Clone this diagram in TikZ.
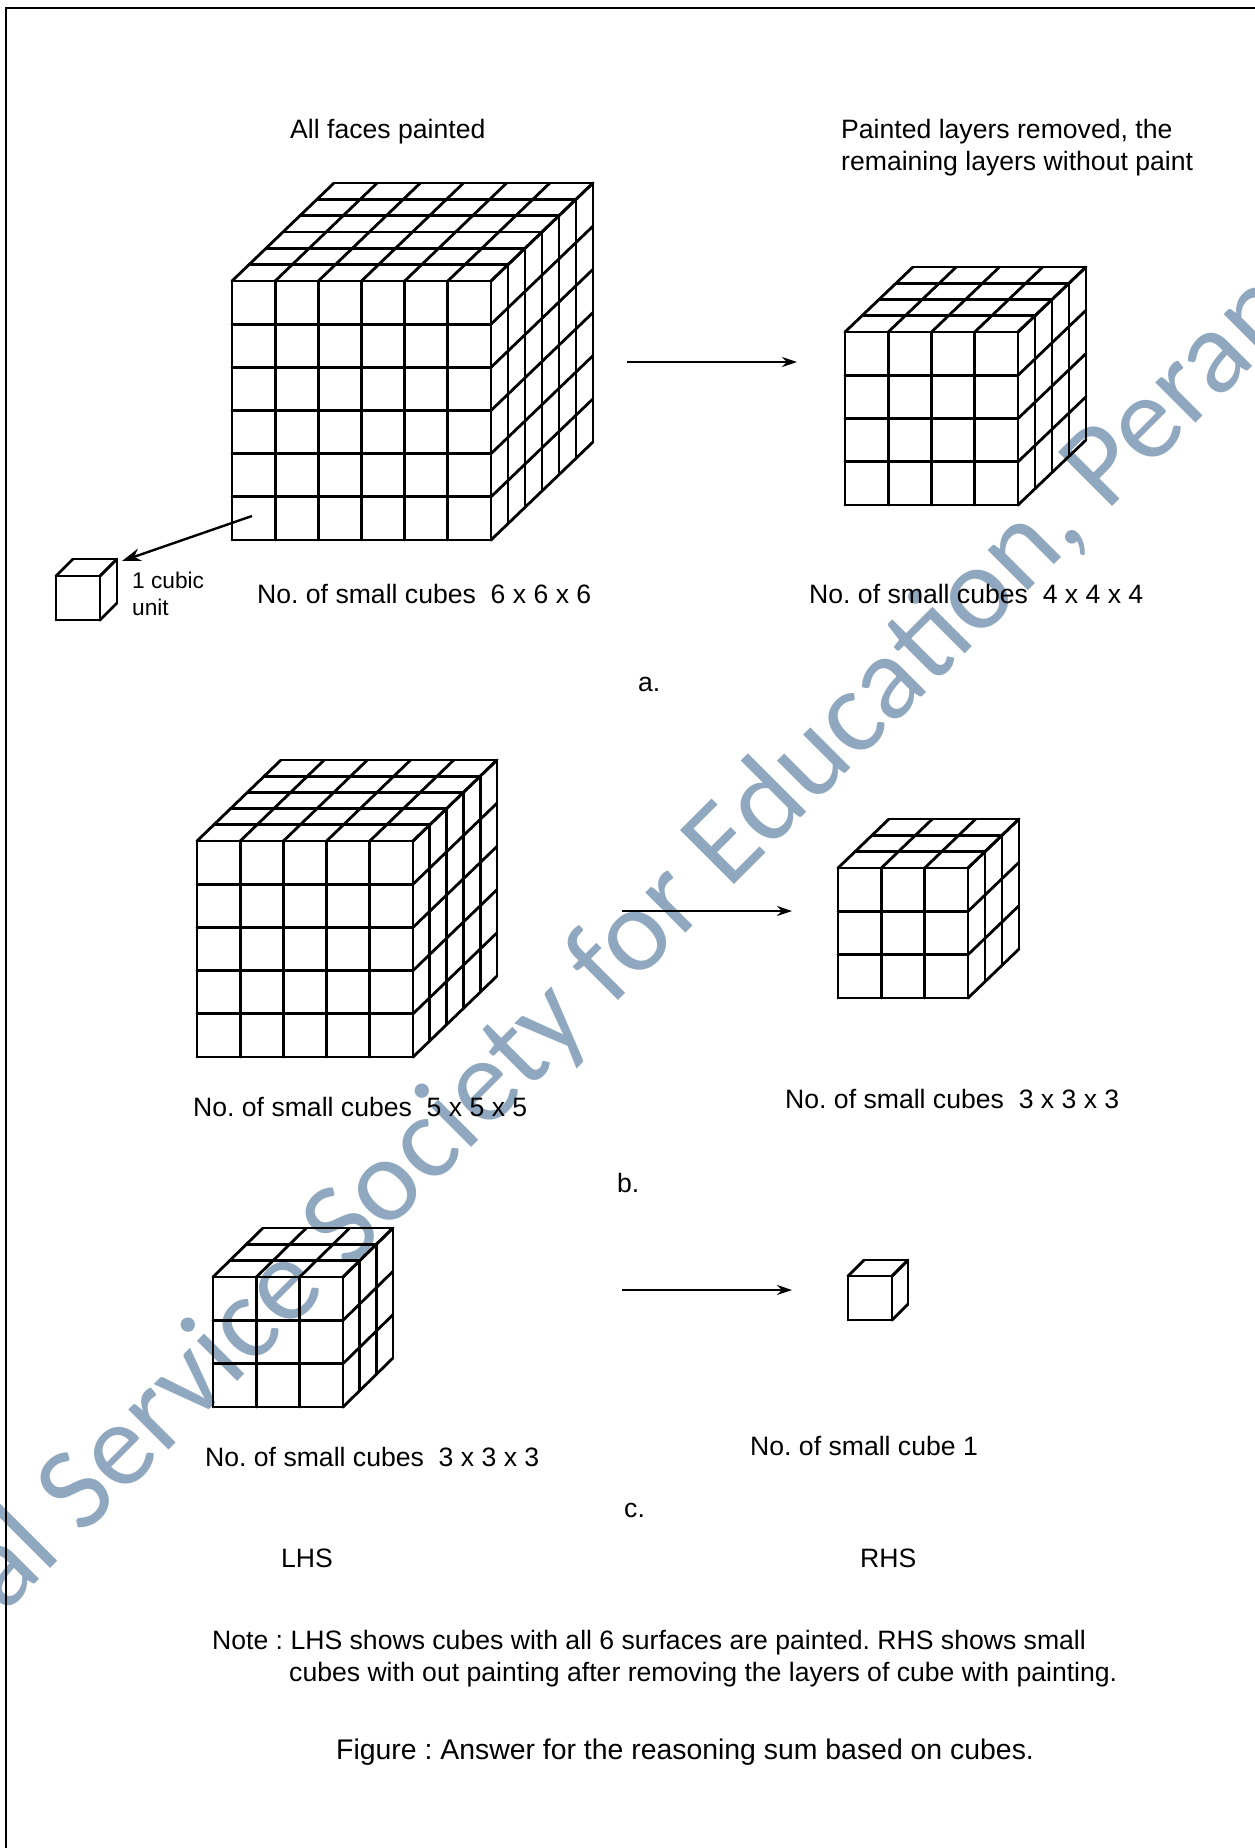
\documentclass[tikz,border=0pt]{standalone}
\usepackage{fontspec}
\setmainfont{Liberation Sans}
\newfontfamily\markfont{Carlito}
\usetikzlibrary{arrows.meta}
\definecolor{sello}{HTML}{8FA8BF}
\tikzset{
  every picture/.style={>=Stealth},
  rotulo/.style={anchor=base west, inner sep=0pt, font=\fontsize{26.6}{31}\selectfont\frenchspacing},
  titulo/.style={anchor=base west, inner sep=0pt, font=\fontsize{28.4}{33}\selectfont\frenchspacing},
  chico/.style={anchor=base west, inner sep=0pt, font=\fontsize{22.7}{27}\selectfont},
  sello/.style={anchor=base west, inner sep=0pt, text=sello, rotate=45, font=\markfont\fontsize{119}{140}\selectfont},
  rejilla/.style={line width=2.8pt, line cap=round, line join=round},
  marco/.style={line width=2.8pt},
  flecha/.style={-{Stealth[length=15pt, width=10pt]}, line width=2.4pt},
  flechag/.style={-{Stealth[length=19pt, width=13pt]}, line width=2.4pt},
}
% x0, y0 (front face, lower left), side, cells, depth x, depth y
\newcommand{\gridcube}[6]{
  \begin{scope}[shift={(#1,#2)}, rejilla]
    \foreach \i in {0,...,#4} {
      \draw ({\i*#3/#4},0) -- ({\i*#3/#4},-#3);
      \draw (0,{-\i*#3/#4}) -- (#3,{-\i*#3/#4});
      \draw ({\i*#3/#4},-#3) -- ({\i*#3/#4+#5},{-#3-#6});
      \draw ({\i*#5/#4},{-#3-\i*#6/#4}) -- ({#3+\i*#5/#4},{-#3-\i*#6/#4});
      \draw ({#3+\i*#5/#4},{-\i*#6/#4}) -- ({#3+\i*#5/#4},{-#3-\i*#6/#4});
      \draw (#3,{-\i*#3/#4}) -- ({#3+#5},{-\i*#3/#4-#6});
    }
  \end{scope}
}
\begin{document}
\begin{tikzpicture}[x=1pt, y=-1pt]
  \useasboundingbox (0,0) rectangle (1255,1848);
  \begin{scope}
    \clip (0,0) rectangle (1255,1848);
    \node[sello] (marca) at (4,1615) {al Service Society for Education, Peran};
  \end{scope}
  \draw[marco] (6,1848) -- (6,8) -- (1255,8);

  \gridcube{232}{540}{259}{6}{102}{98}
  \gridcube{845}{505}{173}{4}{68}{65}
  \gridcube{197}{1057}{216}{5}{84}{81}
  \gridcube{838}{998}{130}{3}{51}{49}
  \gridcube{213}{1407}{130}{3}{50}{49}
  \gridcube{56}{620}{44}{1}{17}{17}
  \gridcube{848}{1320}{44}{1}{16}{16}

  \node[rotulo] (t1) at (290,138) {All faces painted};
  \node[rotulo] (t2) at (841,138) {Painted layers removed, the};
  \node[rotulo] (t3) at (841,170) {remaining layers without paint};
  \node[chico] (u1) at (132,588) {1 cubic};
  \node[chico] (u2) at (132,615) {unit};
  \node[rotulo] (n1) at (257,603) {No. of small cubes\ \ 6 x 6 x 6};
  \node[rotulo] (n2) at (809,603) {No. of small cubes\ \ 4 x 4 x 4};
  \node[rotulo] (n3) at (193,1116) {No. of small cubes\ \ 5 x 5 x 5};
  \node[rotulo] (n4) at (785,1108) {No. of small cubes\ \ 3 x 3 x 3};
  \node[rotulo] (n5) at (205,1466) {No. of small cubes\ \ 3 x 3 x 3};
  \node[rotulo] (n6) at (750,1455) {No. of small cube 1};
  \node[rotulo] (la) at (638,691) {a.};
  \node[rotulo] (lb) at (617,1192) {b.};
  \node[rotulo] (lc) at (624,1517) {c.};
  \node[rotulo] (lhs) at (281,1567) {LHS};
  \node[rotulo] (rhs) at (860,1567) {RHS};
  \node[rotulo] (nota1) at (212,1649) {Note : LHS shows cubes with all 6 surfaces are painted. RHS shows small};
  \node[rotulo] (nota2) at (289,1681) {cubes with out painting after removing the layers of cube with painting.};
  \node[titulo] (pie) at (336,1759) {Figure : Answer for the reasoning sum based on cubes.};

  \coordinate (a1) at (627,362);
  \coordinate (a2) at (797,362);
  \coordinate (b1) at (622,911);
  \coordinate (b2) at (792,911);
  \coordinate (c1) at (622,1290);
  \coordinate (c2) at (792,1290);
  \coordinate (d1) at (252,516);
  \coordinate (d2) at (122,561);
  \draw[flecha] (a1) -- (a2);
  \draw[flecha] (b1) -- (b2);
  \draw[flecha] (c1) -- (c2);
  \draw[flechag] (d1) -- (d2);
\end{tikzpicture}
\end{document}
